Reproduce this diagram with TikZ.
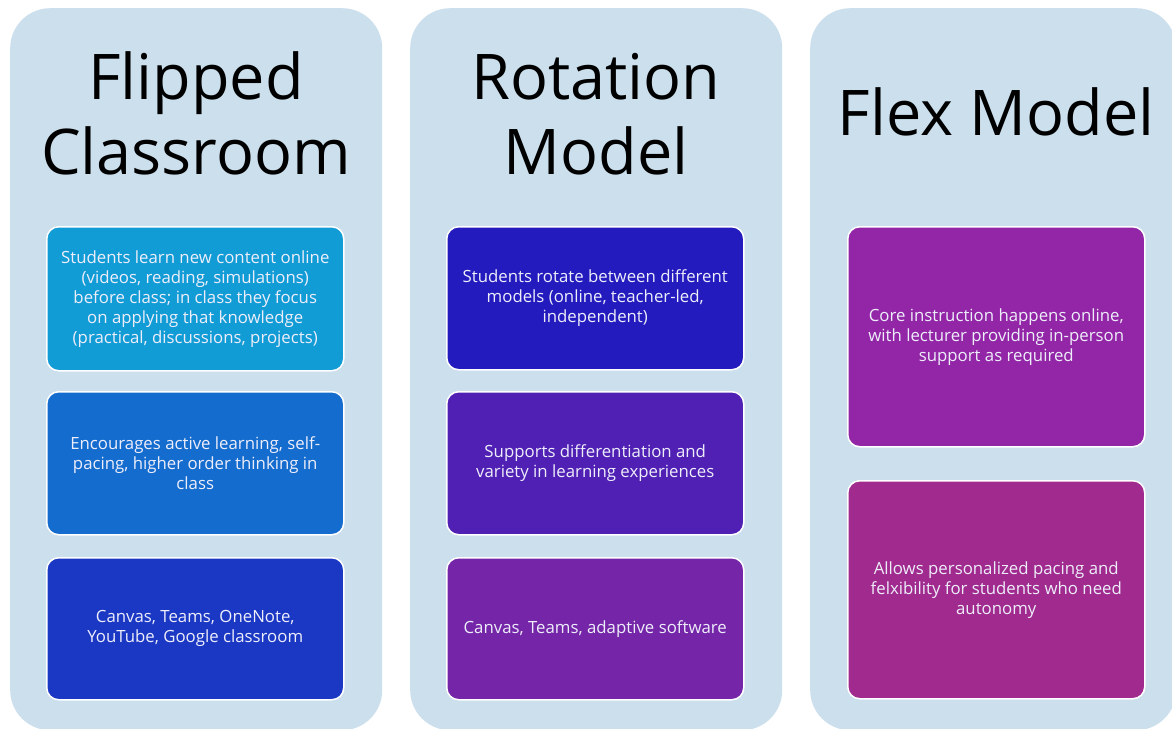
\documentclass[tikz,border=0pt]{standalone}
\usepackage{fontspec}
\setmainfont{Open Sans}
\definecolor{colbg}{HTML}{CBDFED}
\definecolor{cardtext}{HTML}{EEEEFA}
\definecolor{cA}{HTML}{119CD6}
\definecolor{cB}{HTML}{146CCE}
\definecolor{cC}{HTML}{1B38C4}
\definecolor{cD}{HTML}{231BBE}
\definecolor{cE}{HTML}{5020B4}
\definecolor{cF}{HTML}{7525A8}
\definecolor{cG}{HTML}{9226A6}
\definecolor{cH}{HTML}{A02A8E}
\begin{document}
\begin{tikzpicture}[x=1pt,y=-1pt,
  col/.style={fill=colbg, draw=none, rounded corners=40pt, inner sep=0pt, anchor=north west},
  card/.style={rounded corners=12pt, draw=white, line width=1.5pt, align=center, text=cardtext,
     font=\fontsize{16.8}{20}\selectfont, inner sep=0pt, anchor=north west, minimum width=297pt},
  title/.style={font=\fontsize{63}{75}\selectfont, align=center, text=black, anchor=base}]
\useasboundingbox (0,0) rectangle (1172,728);
\clip (0,0) rectangle (1172,728);
\fill[white] (0,0) rectangle (1172,728);
% columns
\node[col, minimum width=372pt, minimum height=722pt] (c1) at (10,8) {};
\node[col, minimum width=372pt, minimum height=722pt] (c2) at (410,8) {};
\node[col, minimum width=366pt, minimum height=722pt] (c3) at (810,8) {};
% titles
\node[title] (t1) at (196,174) {Flipped\\Classroom};
\node[title] (t2) at (596,174) {Rotation\\Model};
\node[title] (t3) at (996,135) {Flex Model};
% column 1
\node[card, fill=cA, minimum height=144pt] (a1) at (46,226) {Students learn new content online\\(videos, reading, simulations)\\before class; in class they focus\\on applying that knowledge\\(practical, discussions, projects)};
\node[card, fill=cB, minimum height=143pt] (a2) at (46,391) {Encourages active learning, self-\\pacing, higher order thinking in\\class};
\node[card, fill=cC, minimum height=142pt] (a3) at (46,557) {Canvas, Teams, OneNote,\\YouTube, Google classroom};
% column 2
\node[card, fill=cD, minimum height=143pt] (b1) at (446,226) {Students rotate between different\\models (online, teacher-led,\\independent)};
\node[card, fill=cE, minimum height=143pt] (b2) at (446,391) {Supports differentiation and\\variety in learning experiences};
\node[card, fill=cF, minimum height=142pt] (b3) at (446,557) {Canvas, Teams, adaptive software};
% column 3
\node[card, fill=cG, minimum height=220pt] (d1) at (847,226) {Core instruction happens online,\\with lecturer providing in-person\\support as required};
\node[card, fill=cH, minimum height=218pt] (d2) at (847,480) {Allows personalized pacing and\\felxibility for students who need\\autonomy};
\end{tikzpicture}
\end{document}
